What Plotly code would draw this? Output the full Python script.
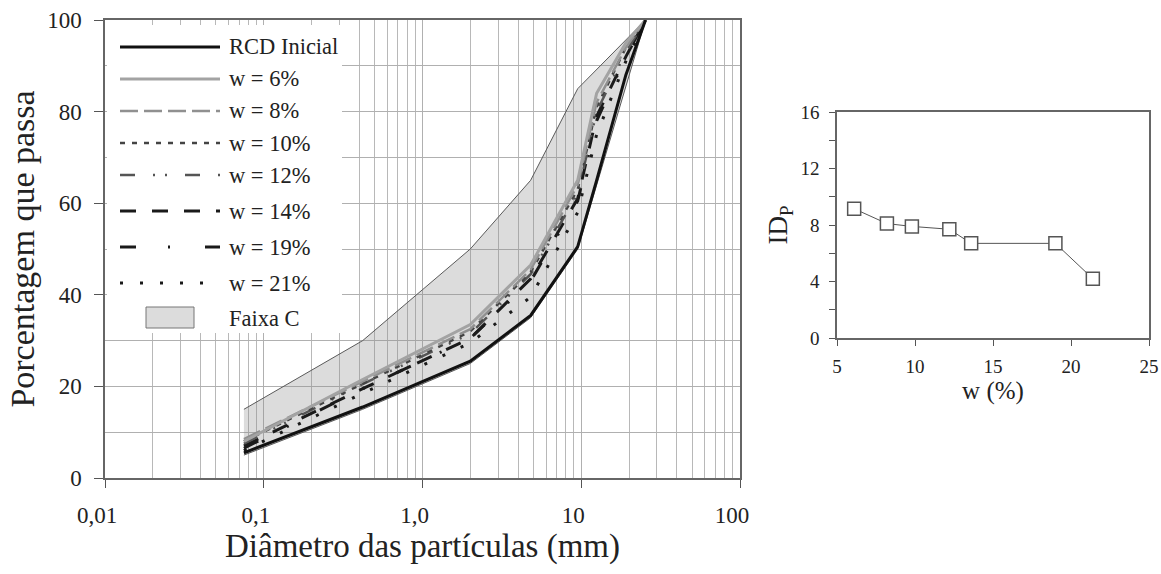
import plotly.graph_objects as go

# ---------------- data ----------------
# sieve openings (mm)
sieves = [0.075, 0.42, 2.0, 4.8, 9.5, 12.5, 19.1, 25.4]

# percentage passing for each curve
rcd_inicial = [5.5, 15.5, 25.5, 35.5, 50.5, 65.0, 88.0, 100.0]
w06 = [8.0, 21.5, 33.5, 46.5, 65.0, 84.0, 95.0, 100.0]
w08 = [8.5, 21.0, 32.5, 45.5, 64.0, 82.0, 94.0, 100.0]
w10 = [8.0, 20.5, 32.0, 45.0, 63.0, 81.0, 94.0, 100.0]
w12 = [7.5, 20.5, 31.5, 44.5, 62.0, 80.0, 93.0, 100.0]
w14 = [7.0, 19.5, 30.5, 43.5, 61.0, 79.0, 92.0, 100.0]
w19 = [6.5, 19.5, 30.5, 43.0, 60.5, 78.0, 92.0, 100.0]
w21 = [6.0, 18.5, 29.5, 39.5, 58.0, 75.0, 91.0, 100.0]

# Faixa C gradation band
faixa_sieves = [0.075, 0.42, 2.0, 4.8, 9.5, 25.4]
faixa_upper = [15, 30, 50, 65, 85, 100]
faixa_lower = [5, 15, 25, 35, 50, 100]

# breakage index vs moisture content
w_pct = [6.1, 8.2, 9.8, 12.2, 13.6, 19.0, 21.4]
id_p = [9.15, 8.1, 7.9, 7.7, 6.7, 6.7, 4.2]

x_tickvals = [0.01, 0.1, 1, 10, 100]
x_ticktext = ["0,01", "0,1", "1,0", "10", "100"]

# ---------------- styles ----------------
W, H = 1161, 574
FONT = "Liberation Serif"
TXT = "#222222"

curves = [
    ("RCD Inicial", rcd_inicial, "#111111", "solid", 3.0),
    ("w = 6%", w06, "#a3a3a3", "solid", 3.0),
    ("w = 8%", w08, "#909090", "18px,6px", 2.5),
    ("w = 10%", w10, "#444444", "5px,7px", 2.5),
    ("w = 12%", w12, "#555555", "15px,18px,2px,10px,2px,18px", 2.5),
    ("w = 14%", w14, "#1a1a1a", "16px,16px", 3.0),
    ("w = 19%", w19, "#1a1a1a", "16px,32px,2px,35px", 3.0),
    ("w = 21%", w21, "#1a1a1a", "3px,17px", 3.0),
]


def px(x):
    return x / W


def py(y):
    return 1 - y / H


fig = go.Figure()

# gradation band (upper limit forward, lower limit back)
fig.add_trace(go.Scatter(
    x=faixa_sieves + faixa_sieves[::-1],
    y=faixa_upper + faixa_lower[::-1],
    fill="toself", fillcolor="rgba(140,140,140,0.30)",
    line=dict(color="#5a5a5a", width=1),
    mode="lines", showlegend=False, hoverinfo="skip",
    xaxis="x", yaxis="y",
))

for name, vals, color, dash, width in curves[::-1]:
    fig.add_trace(go.Scatter(
        x=sieves, y=vals, name=name, mode="lines",
        line=dict(color=color, dash=dash, width=width),
        showlegend=False, xaxis="x", yaxis="y",
    ))

# right panel: ID_P vs w
fig.add_trace(go.Scatter(
    x=w_pct, y=id_p, mode="lines+markers",
    line=dict(color="#555555", width=1),
    marker=dict(symbol="square", size=13, color="white",
                line=dict(color="#555555", width=1.5)),
    showlegend=False, xaxis="x2", yaxis="y2",
))

# ---------------- hand-drawn legend ----------------
shapes = [dict(type="rect", xref="paper", yref="paper",
               x0=px(107), x1=px(342), y0=py(333), y1=py(25),
               fillcolor="white", line=dict(width=0), layer="above")]
annotations = []
legend_rows = [47, 79, 111, 143, 175, 211, 247, 283]
for (name, vals, color, dash, width), yy in zip(curves, legend_rows):
    shapes.append(dict(type="line", xref="paper", yref="paper",
                       x0=px(120), x1=px(220), y0=py(yy), y1=py(yy),
                       line=dict(color=color, dash=dash, width=width),
                       layer="above"))
    annotations.append(dict(text=name, xref="paper", yref="paper",
                            x=px(227), y=py(yy), xanchor="left",
                            yanchor="middle", showarrow=False,
                            font=dict(family=FONT, size=22.5, color=TXT)))
shapes.append(dict(type="rect", xref="paper", yref="paper",
                   x0=px(146), x1=px(194), y0=py(328), y1=py(307),
                   fillcolor="#dcdcdc", line=dict(color="#777777", width=1),
                   layer="above"))
annotations.append(dict(text="Faixa C", xref="paper", yref="paper",
                        x=px(227), y=py(318), xanchor="left",
                        yanchor="middle", showarrow=False,
                        font=dict(family=FONT, size=22.5, color=TXT)))

minor_log = [m * 10 ** e for e in range(-2, 2) for m in range(2, 10)]

axis_line = dict(showline=True, linecolor="#666666", linewidth=1.5,
                 mirror=True, ticks="outside", tickcolor="#555555",
                 zeroline=False, automargin=False)

fig.update_layout(
    width=W, height=H,
    margin=dict(l=0, r=0, t=0, b=0),
    paper_bgcolor="white", plot_bgcolor="white",
    font=dict(family=FONT, color=TXT),
    shapes=shapes, annotations=annotations,
    xaxis=dict(
        type="log", range=[-2, 2], domain=[px(105), px(740)],
        tickvals=x_tickvals, ticktext=x_ticktext, ticklen=8,
        ticklabelstandoff=8, ticklabelshift=-8,
        tickfont=dict(family=FONT, size=23, color=TXT),
        showgrid=True, gridcolor="#b0b0b0", gridwidth=1.3,
        minor=dict(tickvals=minor_log, showgrid=True, gridcolor="#b8b8b8",
                   gridwidth=1.2, ticks=""),
        title=dict(text="Diâmetro das partículas (mm)", standoff=4,
                   font=dict(family=FONT, size=33, color=TXT)),
        anchor="y", **axis_line,
    ),
    yaxis=dict(
        range=[0, 100], domain=[py(478), py(20)],
        tickvals=[0, 20, 40, 60, 80, 100], ticklen=9,
        ticklabelstandoff=8,
        tickfont=dict(family=FONT, size=23, color=TXT),
        showgrid=True, gridcolor="#b0b0b0", gridwidth=1.3,
        minor=dict(dtick=10, tick0=0, showgrid=True, gridcolor="#b0b0b0",
                   gridwidth=1.3, ticks=""),
        title=dict(text="Porcentagem que passa", standoff=2,
                   font=dict(family=FONT, size=34, color=TXT)),
        anchor="x", **axis_line,
    ),
    xaxis2=dict(
        range=[5, 25], domain=[px(837), px(1149)],
        tickvals=[5, 10, 15, 20, 25], ticklen=6, ticklabelstandoff=4,
        tickfont=dict(family=FONT, size=19, color=TXT),
        showgrid=False,
        title=dict(text="w (%)", standoff=6,
                   font=dict(family=FONT, size=25, color=TXT)),
        anchor="y2", **axis_line,
    ),
    yaxis2=dict(
        range=[0, 16], domain=[py(338), py(112)],
        tickvals=[0, 4, 8, 12, 16], ticklen=6, ticklabelstandoff=6,
        tickfont=dict(family=FONT, size=19, color=TXT),
        showgrid=False,
        minor=dict(tickvals=[2, 6, 10, 14], ticks="outside", ticklen=6,
                   tickcolor="#555555"),
        title=dict(text="ID<sub>P</sub>", standoff=5,
                   font=dict(family=FONT, size=27, color=TXT)),
        anchor="x2", **axis_line,
    ),
)

fig.write_html("out.html")
